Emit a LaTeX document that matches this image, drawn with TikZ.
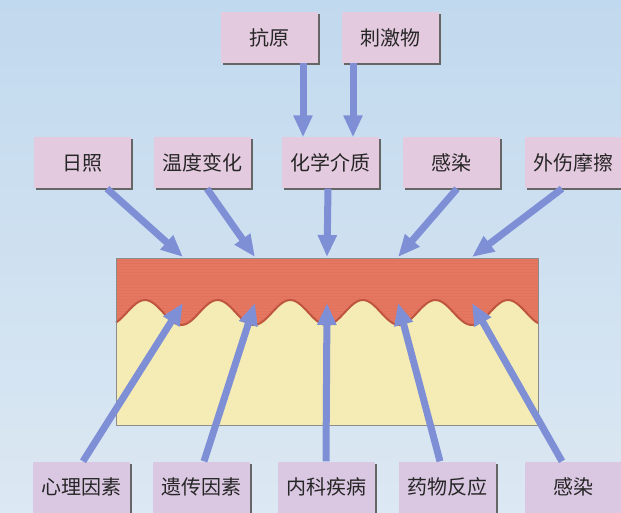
\documentclass[tikz,border=0pt]{standalone}
\usepackage{fontspec}
\newfontfamily\cjk{Noto Sans CJK SC}
\usetikzlibrary{arrows.meta,shadows}
\definecolor{bgtop}{HTML}{C1D9EE}
\definecolor{bgbot}{HTML}{DCE8F3}
\definecolor{boxtop}{HTML}{E4CADF}
\definecolor{boxbot}{HTML}{DAC7E2}
\definecolor{epid}{HTML}{E5765F}
\definecolor{epidrim}{HTML}{BF553E}
\definecolor{derm}{HTML}{F4ECB4}
\definecolor{arrowblue}{HTML}{7F8FD6}

\begin{document}
\begin{tikzpicture}
      [x=1pt,y=1pt
      ,box/.style={fill=boxtop,minimum width=97pt,minimum height=51pt,inner sep=0pt
         ,text=black!85,font=\cjk\fontsize{20}{24}\selectfont
         ,general shadow={fill=black!60,shadow xshift=2pt,shadow yshift=-2pt}}
      ,lowbox/.style={box,fill=boxbot}
      ,arr/.style={draw=arrowblue,line width=7pt,-{Triangle[width=18pt,length=22pt]}}
      ,wave/.style={domain=116:538,samples=150}
      ]
        \useasboundingbox (0,0) rectangle (621,-513);
        \shade[top color=bgtop,bottom color=bgbot] (0,0) rectangle (621,-513);
        % skin block: dermis, then epidermis with its wavy lower edge
        \fill[derm] (116,-258) rectangle (538,-425);
        \fill[epid] (538,-258) -- (116,-258) --
          plot[wave] (\x,{-(312.5-12.5*cos(4.9587*(\x-145)))}) -- cycle;
        % fine grain in the epidermis
        \begin{scope}
          \clip (538,-258) -- (116,-258) --
            plot[wave] (\x,{-(312.5-12.5*cos(4.9587*(\x-145)))}) -- cycle;
          \foreach \y in {260,263,...,326}{
            \draw[epidrim,opacity=.1,line width=.8pt] (116,-\y) -- (538,-\y);
          }
        \end{scope}
        \draw[epidrim,line width=2pt]
          plot[wave] (\x,{-(312.5-12.5*cos(4.9587*(\x-145)))});
        \draw[black!45,line width=.6pt] (116,-258) rectangle (538,-425);

        % causes
        \node[box] (kangyuan) at (269,-37.5) {抗原};
        \node[box] (ciji) at (390,-37.5) {刺激物};
        \node[box] (rizhao) at (82,-163) {日照};
        \node[box] (wendu) at (202,-163) {温度变化};
        \node[box] (huaxue) at (330,-163) {化学介质};
        \node[box] (ganran) at (451,-163) {感染};
        \node[box] (waishang) at (573,-163) {外伤摩擦};
        \node[lowbox] (xinli) at (81,-487) {心理因素};
        \node[lowbox] (yichuan) at (201,-487) {遗传因素};
        \node[lowbox] (neike) at (326,-487) {内科疾病};
        \node[lowbox] (yaowu) at (447,-487) {药物反应};
        \node[lowbox] (ganran2) at (573,-487) {感染};

        % where the arrows hit the skin
        \foreach \i/\x in {1/183,2/255,3/327,4/398,5/472}{
          \coordinate (surf\i) at (\x,-257);
          \coordinate (deep\i) at (\x,-303);
        }

        \draw[arr] ([xshift=34pt]kangyuan.south) -- ([xshift=-27pt]huaxue.north);
        \draw[arr] ([xshift=-37pt]ciji.south) -- ([xshift=23pt]huaxue.north);
        \draw[arr] ([xshift=25pt]rizhao.south) -- (surf1);
        \draw[arr] ([xshift=5pt]wendu.south) -- (surf2);
        \draw[arr] ([xshift=-2pt]huaxue.south) -- (surf3);
        \draw[arr] ([xshift=6pt]ganran.south) -- (surf4);
        \draw[arr] ([xshift=-11pt]waishang.south) -- (surf5);
        \draw[arr] ([xshift=2pt]xinli.north) -- (deep1);
        \draw[arr] ([xshift=3pt]yichuan.north) -- (deep2);
        \draw[arr] ([xshift=0pt]neike.north) -- (deep3);
        \draw[arr] ([xshift=-7pt]yaowu.north) -- (deep4);
        \draw[arr] ([xshift=-11pt]ganran2.north) -- (deep5);
      \end{tikzpicture}
\end{document}
